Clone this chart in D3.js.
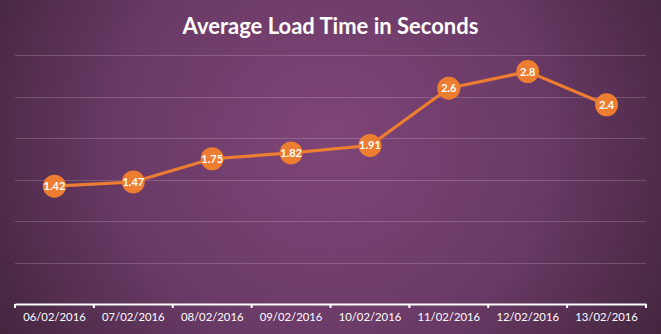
<!DOCTYPE html>
<html><head><meta charset="utf-8">
<script src="https://cdnjs.cloudflare.com/ajax/libs/d3/7.8.5/d3.min.js"></script>
<style>html,body{margin:0;padding:0;background:#4a2848;}svg{display:block;}</style>
</head><body>
<script>
const categories = ["06/02/2016","07/02/2016","08/02/2016","09/02/2016","10/02/2016","11/02/2016","12/02/2016","13/02/2016"];
const loadTimes = [1.42,1.47,1.75,1.82,1.91,2.6,2.8,2.4];
const valueLabels = ["1.42","1.47","1.75","1.82","1.91","2.6","2.8","2.4"];
const yTicks = [0,0.5,1,1.5,2,2.5,3];
const title = "Average Load Time in Seconds";

const W = 661, H = 334;
const m = {left:15, right:15, top:55, bottom:30};
const svg = d3.select("body").append("svg").attr("width",W).attr("height",H);
const defs = svg.append("defs");
const rg = defs.append("radialGradient").attr("id","bg").attr("gradientUnits","userSpaceOnUse")
  .attr("cx",330).attr("cy",140).attr("r",380);
rg.append("stop").attr("offset","0%").attr("stop-color","#7e4577");
rg.append("stop").attr("offset","55%").attr("stop-color","#6a3a66");
rg.append("stop").attr("offset","100%").attr("stop-color","#44263f");
svg.append("rect").attr("width",W).attr("height",H).attr("fill","url(#bg)");

const x = d3.scaleBand().domain(categories).range([m.left, W-m.right]).padding(0);
const y = d3.scaleLinear().domain([0,3]).range([304,55]);

svg.append("text").attr("x",W/2).attr("y",34).attr("text-anchor","middle")
  .attr("fill","#fff").attr("font-family","Lato, 'Open Sans', sans-serif").attr("font-weight","bold")
  .attr("font-size",22).text(title);

// gridlines
svg.append("g").selectAll("line").data(yTicks.filter(d=>d>0)).join("line")
  .attr("x1",m.left).attr("x2",W-m.right)
  .attr("y1",d=>Math.round(y(d))+0.5).attr("y2",d=>Math.round(y(d))+0.5)
  .attr("stroke","rgba(255,255,255,0.18)").attr("stroke-width",1);

// x axis
const xAxis = d3.axisBottom(x).tickSize(0).tickPadding(9);
const gx = svg.append("g").attr("transform",`translate(0,${y(0)})`).call(xAxis);
gx.select(".domain").attr("stroke","#fff").attr("stroke-width",2);
gx.selectAll("text").attr("fill","#fff").attr("font-family","Lato, 'Open Sans', sans-serif").attr("font-size",11.3);
const bounds = categories.map(c=>x(c)).concat([x(categories[categories.length-1])+x.bandwidth()]);
gx.append("g").selectAll("line").data(bounds).join("line")
  .attr("x1",d=>d).attr("x2",d=>d).attr("y1",0).attr("y2",4)
  .attr("stroke","#fff").attr("stroke-width",2);

const cx = c => x(c)+x.bandwidth()/2;
const line = d3.line().x((d,i)=>cx(categories[i])).y(d=>y(d));
svg.append("path").datum(loadTimes).attr("d",line).attr("fill","none")
  .attr("stroke","#ed7d31").attr("stroke-width",3.2);

svg.append("g").selectAll("circle").data(loadTimes).join("circle")
  .attr("cx",(d,i)=>cx(categories[i])).attr("cy",d=>y(d)).attr("r",11.5).attr("fill","#ed7d31");

svg.append("g").selectAll("text").data(loadTimes).join("text")
  .attr("x",(d,i)=>cx(categories[i])).attr("y",d=>y(d)+4)
  .attr("text-anchor","middle").attr("fill","#fff")
  .attr("font-family","Lato, 'Open Sans', sans-serif").attr("font-weight","bold").attr("font-size",11)
  .text((d,i)=>valueLabels[i]);
</script>
</body></html>
